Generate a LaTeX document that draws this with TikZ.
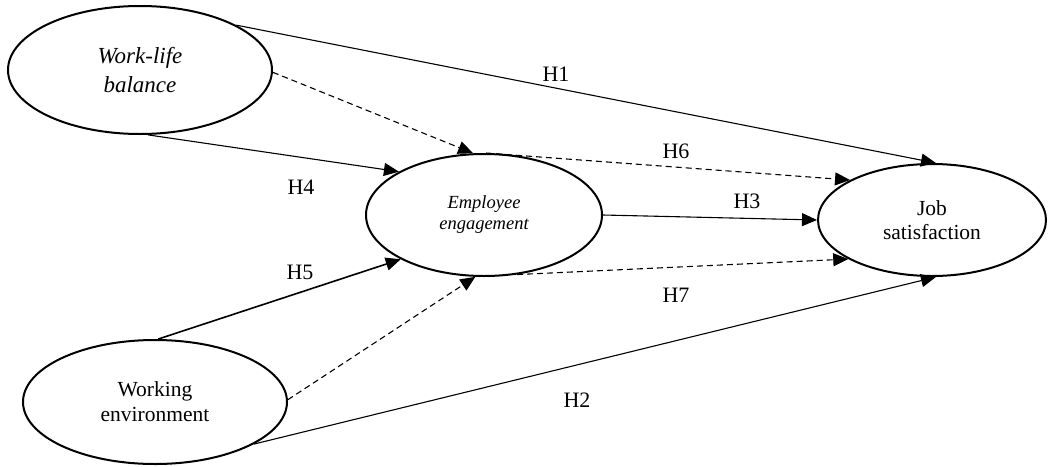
\documentclass[tikz,border=0pt]{standalone}
\usepackage{fontspec}
\setmainfont{Liberation Serif}
\usetikzlibrary{shapes.geometric,arrows.meta}
\begin{document}
\begin{tikzpicture}[x=1pt,y=-1pt,
  latent/.style={draw,ellipse,line width=2pt,inner sep=0pt,align=center},
  hyp/.style={line width=1.1pt,-{Triangle[length=15pt,width=13pt]}},
  medi/.style={hyp,dash pattern=on 6pt off 4pt},
  hlabel/.style={font=\fontsize{22}{24}\selectfont,inner sep=0pt}]
\useasboundingbox (0,0) rectangle (1049,466);
\path node (wlb) at (140,70) [latent,minimum width=264pt,minimum height=128pt,
        font=\fontsize{23}{29}\selectfont\itshape] {Work-life\\balance}
      node (ee) at (484,215) [latent,minimum width=236pt,minimum height=122pt,
        font=\fontsize{18.5}{21}\selectfont\itshape] {Employee\\engagement}
      node (js) at (932,220) [latent,minimum width=228pt,minimum height=112pt,
        font=\fontsize{21.5}{24}\selectfont] {Job\\satisfaction}
      node (we) at (155,402) [latent,minimum width=264pt,minimum height=124pt,
        font=\fontsize{21.5}{25}\selectfont] {Working\\environment}
;
% direct paths
\draw[hyp] (wlb.25) -- (js.86);
\draw[hyp] (wlb.-83) -- (ee.153);
\draw[hyp] (ee.east) -- (js.west);
\draw[hyp,line width=1.6pt] (we.87) -- (ee.-152);
\draw[hyp] (we.-23) -- (js.-86);
% mediated paths
\draw[medi] (wlb.-1) -- (ee.100);
\draw[medi] (ee.88) -- (js.154);
\draw[medi] (we.1) -- (ee.-98);
\draw[medi] (ee.-61) -- (js.-155);
% hypothesis labels
\path node (h1) at (556,74) [hlabel] {H1}
      node (h2) at (577,400) [hlabel] {H2}
      node (h3) at (747,201) [hlabel] {H3}
      node (h4) at (301,187) [hlabel] {H4}
      node (h5) at (300,272) [hlabel] {H5}
      node (h6) at (676,151) [hlabel] {H6}
      node (h7) at (676,295) [hlabel] {H7}
;
\end{tikzpicture}
\end{document}
